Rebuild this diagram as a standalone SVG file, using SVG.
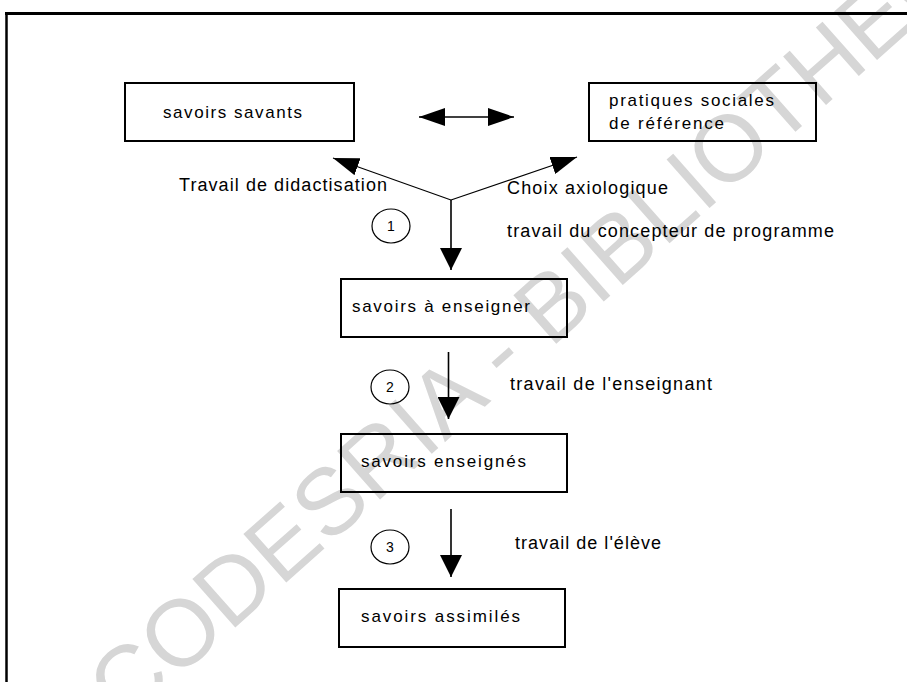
<svg xmlns="http://www.w3.org/2000/svg" width="907" height="682" viewBox="0 0 907 682">
<defs>
<style>
.box{fill:none;stroke:#000;stroke-width:2}
.t{font-family:"Liberation Sans",Arial,sans-serif;font-size:17px;fill:#000}
.l{font-family:"Liberation Sans",Arial,sans-serif;font-size:18px;fill:#000}
.n{font-family:"Liberation Sans",Arial,sans-serif;font-size:14px;fill:#000;text-anchor:middle}
.c{fill:none;stroke:#000;stroke-width:1.2}
.v{stroke:#000;stroke-width:1.6;fill:none}
.d{stroke:#000;stroke-width:1.1;fill:none}
.wm{font-family:"Liberation Sans",Arial,sans-serif;font-size:94px;fill:#d6d6d6}
</style>
<marker id="hv" viewBox="0 0 22 22" refX="22" refY="11" markerWidth="22" markerHeight="22" markerUnits="userSpaceOnUse" orient="auto-start-reverse"><path d="M0,0 L22,11 L0,22 Z" fill="#000"/></marker>
<marker id="hd" viewBox="0 0 26 18" refX="26" refY="9" markerWidth="26" markerHeight="18" markerUnits="userSpaceOnUse" orient="auto-start-reverse"><path d="M0,0 L26,9 L0,18 Z" fill="#000"/></marker>
</defs>
<rect width="907" height="682" fill="#fff"/>
<g id="watermark"><text class="wm" transform="translate(124,726) rotate(-41.5)">CODESRIA - BIBLIOTHEQUE</text></g>
<g id="frame"><line x1="5" y1="13.5" x2="907" y2="13.5" stroke="#000" stroke-width="3"/><line x1="6.5" y1="12" x2="6.5" y2="682" stroke="#000" stroke-width="2.5"/></g>
<g id="connectors">
<line class="v" x1="419" y1="117" x2="514" y2="117" marker-start="url(#hd)" marker-end="url(#hd)"/>
<line class="d" x1="451" y1="200" x2="333" y2="158" marker-end="url(#hd)"/>
<line class="d" x1="451" y1="200" x2="577" y2="157" marker-end="url(#hd)"/>
<line class="v" x1="451" y1="200" x2="451" y2="270" marker-end="url(#hv)"/>
<line class="v" x1="448.5" y1="352" x2="448.5" y2="419" marker-end="url(#hv)"/>
<line class="v" x1="451" y1="509" x2="451" y2="577" marker-end="url(#hv)"/>
</g>
<g id="n-savants"><rect class="box" x="125" y="83" width="229" height="58"/><text class="t" x="163" y="117.5" textLength="139" lengthAdjust="spacing">savoirs savants</text></g>
<g id="n-pratiques"><rect class="box" x="589" y="83" width="227" height="58"/><text class="t" x="609" y="106" textLength="165" lengthAdjust="spacing">pratiques sociales</text><text class="t" x="609" y="129" textLength="115" lengthAdjust="spacing">de référence</text></g>
<g id="n-aenseigner"><rect class="box" x="341" y="279" width="226" height="58"/><text class="t" x="352" y="312" textLength="178" lengthAdjust="spacing">savoirs à enseigner</text></g>
<g id="n-enseignes"><rect class="box" x="341" y="434" width="226" height="58"/><text class="t" x="361" y="467" textLength="165" lengthAdjust="spacing">savoirs enseignés</text></g>
<g id="n-assimiles"><rect class="box" x="339" y="589" width="226" height="58"/><text class="t" x="361" y="622" textLength="159" lengthAdjust="spacing">savoirs assimilés</text></g>
<g id="labels">
<text class="l" x="179" y="190.5" textLength="208" lengthAdjust="spacing">Travail de didactisation</text>
<text class="l" x="507" y="194" textLength="161" lengthAdjust="spacing">Choix axiologique</text>
<text class="l" x="507" y="237" textLength="327" lengthAdjust="spacing">travail du concepteur de programme</text>
<text class="l" x="510" y="390" textLength="202" lengthAdjust="spacing">travail de l'enseignant</text>
<text class="l" x="515" y="549" textLength="146" lengthAdjust="spacing">travail de l'élève</text>
</g>
<g id="step1"><ellipse class="c" cx="391" cy="226" rx="19" ry="17"/><text class="n" x="391" y="231">1</text></g>
<g id="step2"><ellipse class="c" cx="390" cy="387" rx="19" ry="17"/><text class="n" x="390" y="392">2</text></g>
<g id="step3"><ellipse class="c" cx="390" cy="547" rx="19" ry="17"/><text class="n" x="390" y="552">3</text></g>
</svg>
